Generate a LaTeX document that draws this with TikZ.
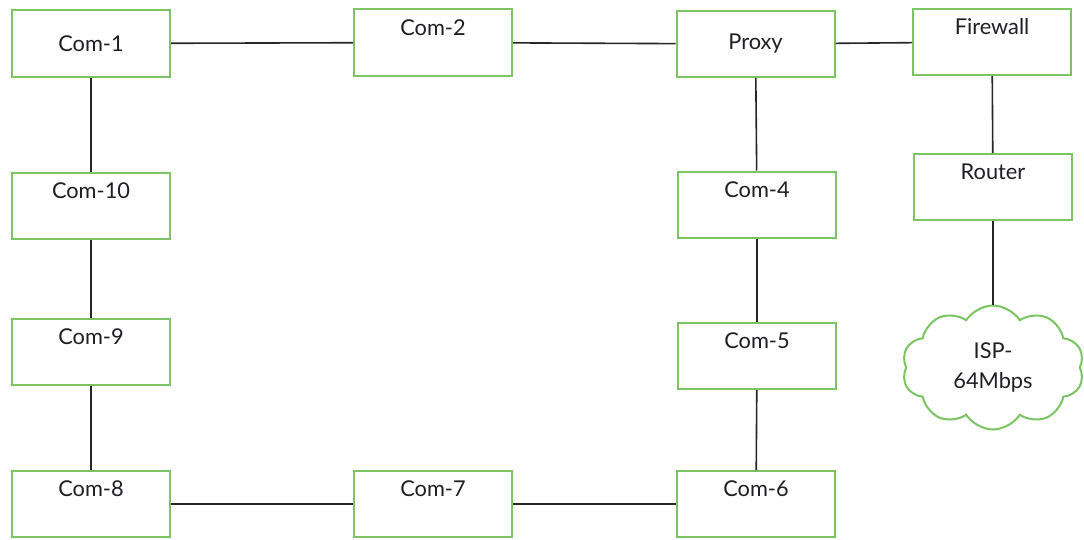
\documentclass[tikz,border=0pt]{standalone}
\usepackage{fontspec}
\setmainfont{Lato}
\usetikzlibrary{shapes.symbols}
\definecolor{boxgreen}{RGB}{122,196,98}
\definecolor{labelgray}{RGB}{30,30,36}
\tikzset{
  pc box/.style = {draw=boxgreen,line width=0.5mm,fill=white,minimum width=39.5mm,minimum height=16.5mm,inner sep=0pt,text=labelgray,font=\fontsize{15.5}{21}\selectfont},
  pc top/.style = {pc box,text height=6.4mm,text depth=10.1mm},
  isp cloud/.style = {cloud,cloud puffs=10,cloud puff arc=115,aspect=1.45,draw=boxgreen,line width=0.5mm,minimum width=45.5mm,minimum height=31mm,inner sep=0pt,align=center,text=labelgray,font=\fontsize{15.5}{21.5}\selectfont},
  link/.style = {draw=black!85,line width=0.4mm}
}

\begin{document}
\begin{tikzpicture}[x=0.25mm,y=-0.25mm]
	\useasboundingbox (0,0) rectangle (1084,539);

	%top row
	\node[pc box] (com1) at (91,43.5) {Com-1};
	\node[pc top] (com2) at (433,42.5) {Com-2};
	\node[pc box] (proxy) at (755.5,44) {Proxy};
	\node[pc top] (firewall) at (992,42) {Firewall};
	%left column
	\node[pc top] (com10) at (91,206) {Com-10};
	\node[pc top] (com9) at (91,352) {Com-9};
	\node[pc top] (com8) at (91,504) {Com-8};
	%bottom row
	\node[pc top] (com7) at (433,504) {Com-7};
	\node[pc top] (com6) at (756,504) {Com-6};
	%right column
	\node[pc top] (com5) at (757,356) {Com-5};
	\node[pc top] (com4) at (757,204.5) {Com-4};
	%way out
	\node[pc top] (router) at (993,187) {Router};
	\node[isp cloud] (isp) at (993,367.5) {ISP-\\64Mbps};

	%ring of computers
	\draw[link] (com1) -- (com2);
	\draw[link] (com2) -- (proxy);
	\draw[link] (proxy) -- (com4);
	\draw[link] (com4) -- (com5);
	\draw[link] (com5) -- (com6);
	\draw[link] (com6) -- (com7);
	\draw[link] (com7) -- (com8);
	\draw[link] (com8) -- (com9);
	\draw[link] (com9) -- (com10);
	\draw[link] (com10) -- (com1);
	%proxy to the internet
	\draw[link] (proxy) -- (firewall);
	\draw[link] (firewall) -- (router);
	\draw[link] (router) -- (isp);

\end{tikzpicture}
\end{document}
